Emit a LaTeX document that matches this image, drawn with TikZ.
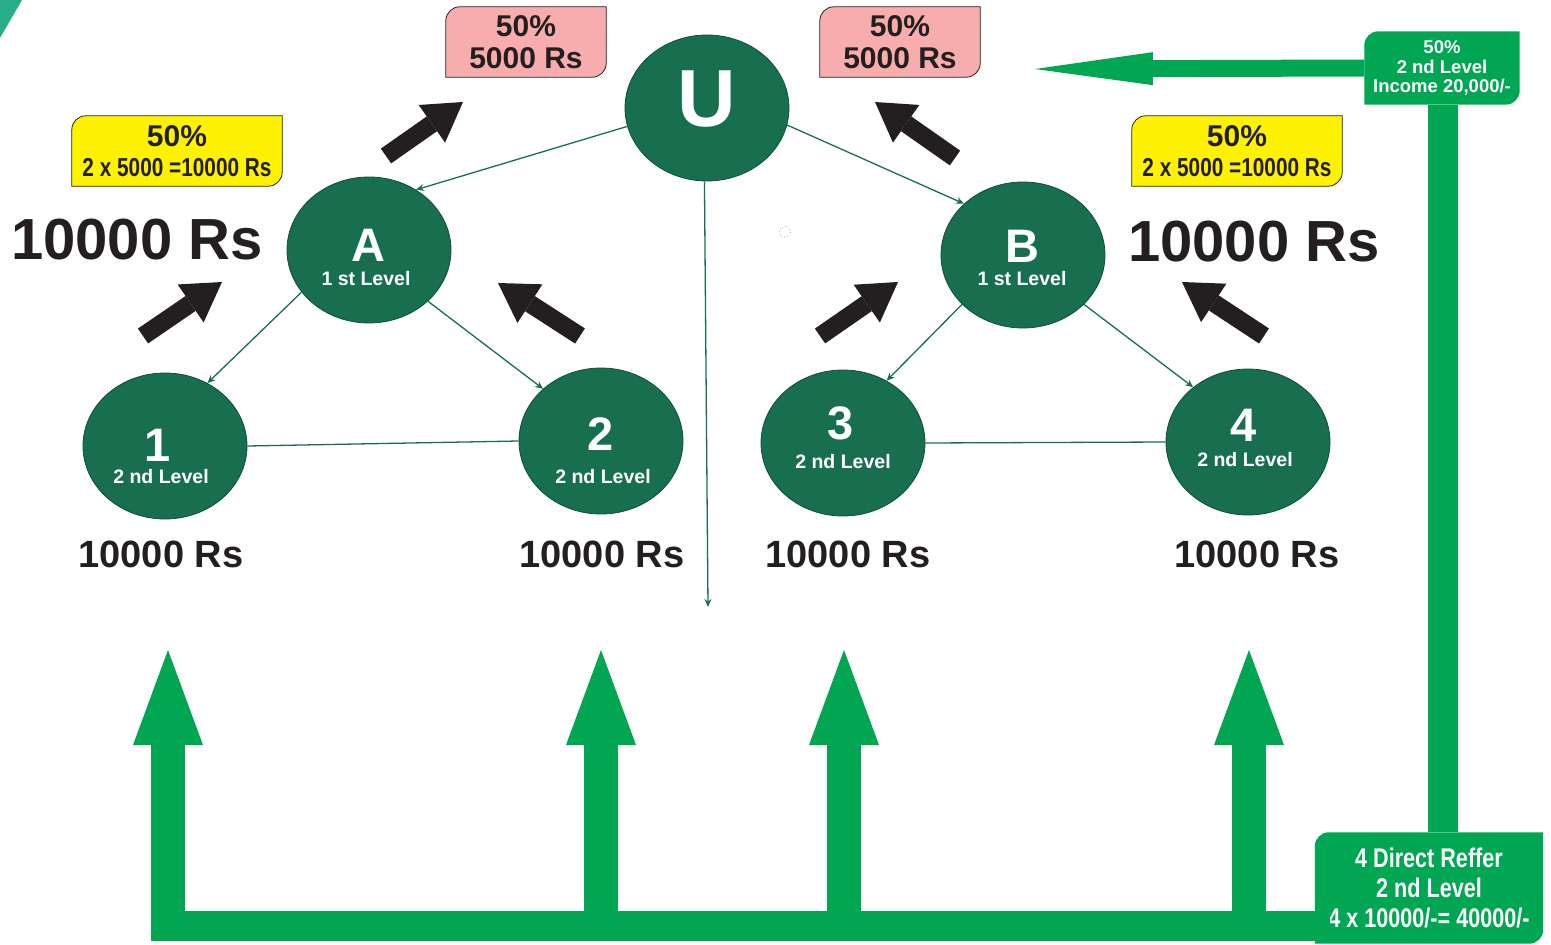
\documentclass[tikz,border=0pt]{standalone}
\usepackage{fontspec}
\setmainfont{Liberation Sans}
\newfontfamily\narrowfont[FakeStretch=0.8]{Liberation Sans}
\usetikzlibrary{shapes.geometric,arrows.meta}
\pgfdeclarelayer{back}
\pgfsetlayers{back,main}
\definecolor{ballgreen}{RGB}{23,111,79}
\definecolor{arrowgreen}{RGB}{0,166,81}
\definecolor{boxpink}{RGB}{247,172,174}
\definecolor{boxyellow}{RGB}{255,242,0}
\definecolor{inkblack}{RGB}{35,31,32}
\definecolor{cornerteal}{RGB}{38,175,135}

\begin{document}
\begin{tikzpicture}[x=1pt,y=1pt,yscale=-1,
  ball/.style={ellipse,minimum width=164pt,minimum height=146pt,inner sep=0pt,fill=ballgreen,draw=ballgreen!70!black,line width=0.8pt},
  ballbig/.style={text=white,inner sep=0pt,font=\bfseries\fontsize{47}{47}\selectfont},
  balllvl/.style={text=white,inner sep=0pt,font=\bfseries\fontsize{19.5}{19.5}\selectfont},
  link/.style={draw=ballgreen,line width=1.3pt},
  linkarrow/.style={link,-{Stealth[length=8pt,width=7pt]}},
  fatblack/.style={draw=inkblack,line width=18pt,-{Triangle[length=38pt,width=46pt,line width=0pt]}},
  garrow/.style={draw=arrowgreen,line width=34pt,-{Triangle[length=95pt,width=70pt,line width=0pt]}},
  gbar/.style={draw=arrowgreen,line width=30pt},
  pinktxt/.style={inner sep=0pt,minimum width=160pt,minimum height=70pt,align=center,text=inkblack,font=\bfseries\fontsize{30}{32}\selectfont},
  yellowtxt/.style={inner sep=0pt,minimum width=210pt,minimum height=70pt,align=center,text=inkblack,font=\bfseries\fontsize{30}{30}\selectfont},
  greentxt/.style={inner sep=0pt,align=center,text=white},
  amount/.style={inner sep=0pt,text=inkblack,font=\bfseries\fontsize{38}{38}\selectfont},
  bigamount/.style={inner sep=0pt,text=inkblack,font=\bfseries\fontsize{58}{58}\selectfont}
]
\useasboundingbox (0,0) rectangle (1551,945);

%Shape: corner triangle
\fill[cornerteal] (0,0) -- (22,0) -- (0,38) -- cycle;

%Shape: Ellipse nodes
\node[ball] (U) at (707,108) {};
\node[ball] (A) at (369,250) {};
\node[ball] (B) at (1023,255) {};
\node[ball] (n1) at (165,446) {};
\node[ball] (n2) at (601,441) {};
\node[ball] (n3) at (843,443) {};
\node[ball] (n4) at (1248,442) {};

% Text Node
\node[ballbig,font=\bfseries\fontsize{81}{81}\selectfont] (Ut) at (707,99) {U};
\node[ballbig] (At) at (368,245) {A};
\node[balllvl] (Al) at (366,279) {1 st Level};
\node[ballbig] (Bt) at (1022,246) {B};
\node[balllvl] (Bl) at (1022,279) {1 st Level};
\node[ballbig] (n1t) at (158,445) {1};
\node[balllvl] (n1l) at (161,477) {2 nd Level};
\node[ballbig] (n2t) at (601,434) {2};
\node[balllvl] (n2l) at (603,477) {2 nd Level};
\node[ballbig] (n3t) at (841,423) {3};
\node[balllvl] (n3l) at (843,462) {2 nd Level};
\node[ballbig] (n4t) at (1244,425) {4};
\node[balllvl] (n4l) at (1245,460) {2 nd Level};

%Straight Lines
\coordinate (udown) at (708,607);
\draw[linkarrow] (U.193) -- (A.52);
\draw[linkarrow] (U.-12) -- (B.139);
\draw[linkarrow] (U.268) -- (udown);
\draw[linkarrow] (A.212) -- (n1.56);
\draw[linkarrow] (A.-41) -- (n2.138);
\draw[linkarrow] (B.219) -- (n3.55);
\draw[linkarrow] (B.-39) -- (n4.135);
\draw[link] (n1.east) -- (n2.west);
\draw[link] (n3.east) -- (n4.west);

%Shape: small dotted circle
\draw[gray!60,dotted,line width=0.8pt] (785,232) circle (5.5);

% Text Node
\node[pinktxt] (pk1) at (526,42) {50\%\\5000 Rs};
\node[pinktxt] (pk2) at (900,42) {50\%\\5000 Rs};
\node[yellowtxt] (yw1) at (177,151) {50\%\\{\narrowfont\fontsize{26}{30}\selectfont 2 x 5000 =10000 Rs}};
\node[yellowtxt] (yw2) at (1237,151) {50\%\\{\narrowfont\fontsize{26}{30}\selectfont 2 x 5000 =10000 Rs}};

\begin{pgfonlayer}{back}
\foreach \bx in {pk1,pk2}
  \draw[fill=boxpink,draw=inkblack,line width=0.8pt] (\bx.south west) [rounded corners=14pt] -- (\bx.north west) [sharp corners] -- (\bx.north east) [rounded corners=14pt] -- (\bx.south east) [sharp corners] -- cycle;
\foreach \bx in {yw1,yw2}
  \draw[fill=boxyellow,draw=inkblack,line width=0.8pt] (\bx.south west) [rounded corners=14pt] -- (\bx.north west) [sharp corners] -- (\bx.north east) [rounded corners=14pt] -- (\bx.south east) [sharp corners] -- cycle;
\end{pgfonlayer}

% Text Node
\node[bigamount] (amA) at (137,240) {10000 Rs};
\node[bigamount] (amB) at (1254,242) {10000 Rs};
\node[amount] (am1) at (161,554) {10000 Rs};
\node[amount] (am2) at (602,554) {10000 Rs};
\node[amount] (am3) at (848,554) {10000 Rs};
\node[amount] (am4) at (1257,554) {10000 Rs};

%Shape: black arrows
\draw[fatblack] (386,156) -- (463,102);
\draw[fatblack] (143,336) -- (222,282);
\draw[fatblack] (580,336) -- (498,283);
\draw[fatblack] (955,158) -- (875,102);
\draw[fatblack] (820,336) -- (898,282);
\draw[fatblack] (1264,336) -- (1182,282);

%Shape: green boxes
\node[greentxt,minimum width=155pt,minimum height=73pt,font=\bfseries\fontsize{18.5}{19.5}\selectfont] (inc) at (1442,68) {50\%\\2 nd Level\\Income 20,000/-};
\node[greentxt,minimum width=228pt,minimum height=111pt,font=\narrowfont\bfseries\fontsize{27}{30}\selectfont] (dr) at (1429,888) {4 Direct Reffer\\2 nd Level\\4 x 10000/-= 40000/-};

\begin{pgfonlayer}{back}
\foreach \bx in {inc,dr}
  \fill[arrowgreen] (\bx.south west) [rounded corners=14pt] -- (\bx.north west) [sharp corners] -- (\bx.north east) [rounded corners=14pt] -- (\bx.south east) [sharp corners] -- cycle;
\end{pgfonlayer}

%Straight Lines: green arrows
\coordinate (barL) at (151,926);
\coordinate (barR) at (1330,926);
\coordinate (up1) at (168,650);
\coordinate (up2) at (601,650);
\coordinate (up3) at (844,650);
\coordinate (up4) at (1249,650);
\coordinate (inctip) at (1035,69);
\draw[gbar] (barL) -- (barR);
\foreach \u in {up1,up2,up3,up4}
  \draw[garrow] (\u |- barL) -- (\u);
\draw[gbar] ([xshift=14pt]dr.north) -- ([xshift=1pt]inc.south);
\draw[draw=arrowgreen,line width=17pt,-{Triangle[length=118pt,width=33pt,line width=0pt]}] (inc.west) -- (inctip);

\end{tikzpicture}
\end{document}
